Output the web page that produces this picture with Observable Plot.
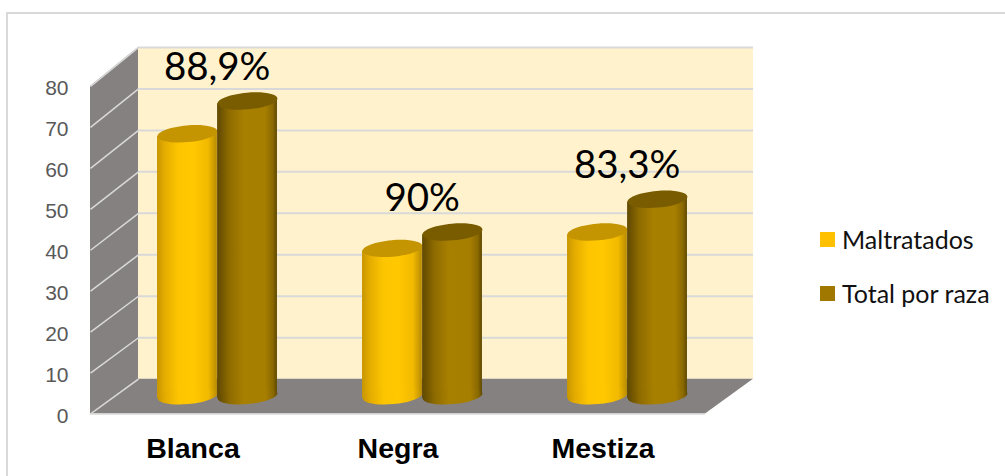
<!DOCTYPE html>
<html>
<head>
<meta charset="utf-8">
<script src="https://cdn.jsdelivr.net/npm/d3@7"></script>
<script src="https://cdn.jsdelivr.net/npm/@observablehq/plot@0.6"></script>
<style>
html,body{margin:0;padding:0;background:#fff;overflow:hidden}
#wrap{position:relative;width:1005px;height:476px;overflow:hidden}
#frame{position:absolute;left:6px;top:12px;width:1020px;height:490px;border:2px solid #d9d9d9;box-sizing:border-box}
#chart{position:absolute;left:0;top:0}
#legend{position:absolute;left:820px;top:0;font-family:Lato,sans-serif;font-size:25px;color:#111}
.item{position:absolute;white-space:nowrap;display:flex;align-items:center;left:0}
.sw{width:15px;height:15px;margin-right:7px;flex:none}
</style>
</head>
<body>
<div id="wrap"><div id="frame"></div><div id="chart"></div><div id="legend"></div></div>
<script>
const categories = ["Blanca", "Negra", "Mestiza"];
const maltratados = [64, 36, 40];
const totalPorRaza = [72, 40, 48];
const percentLabels = ["88,9%", "90%", "83,3%"];
const yTicks = [0, 10, 20, 30, 40, 50, 60, 70, 80];
const seriesNames = ["Maltratados", "Total por raza"];
const swatchColors = ["#ffc000", "#a07800"];

// Depth of the fake 3D box, in scale units
const depthX = 48 / 205, lift = 8.5, backScale = 1.013, baseLift = 4.45;
const back = (v) => lift + v * backScale;
const halfW = 0.146, slope = 0.65;

const ellipse = (rx, ry, deg) => ({
  draw(ctx) {
    const a = deg * Math.PI / 180, c = Math.cos(a), s = Math.sin(a), k = 0.5523;
    const P = (x, y) => [x * c - y * s, x * s + y * c];
    const pts = [[rx,0],[rx,k*ry],[k*rx,ry],[0,ry],[-k*rx,ry],[-rx,k*ry],[-rx,0],[-rx,-k*ry],[-k*rx,-ry],[0,-ry],[k*rx,-ry],[rx,-k*ry],[rx,0]].map(p => P(...p));
    ctx.moveTo(...pts[0]);
    for (let i = 1; i < pts.length; i += 3) ctx.bezierCurveTo(...pts[i], ...pts[i+1], ...pts[i+2]);
    ctx.closePath();
  }
});
const cap = ellipse(30, 8.3, -5);

const gradients = () => {
  const defs = d3.create("svg:defs");
  const add = (id, stops) => {
    const g = defs.append("linearGradient").attr("id", id);
    stops.forEach(([o, c]) => g.append("stop").attr("offset", o).attr("stop-color", c));
  };
  add("gY", [[0,"#c79600"],[0.12,"#e3ab00"],[0.35,"#fcc500"],[0.6,"#ffc800"],[0.85,"#f2ba00"],[1,"#b88b00"]]);
  add("gB", [[0,"#5f4800"],[0.2,"#8e6b00"],[0.45,"#a88000"],[0.8,"#a67e00"],[0.93,"#8a6900"],[1,"#5f4900"]]);
  return defs.node();
};

const barRows = (vals, off) => vals.flatMap((v, i) => {
  const cx = i + off, top = v + baseLift;
  return [
    {id: i, x: cx - halfW, y1: baseLift - slope, y2: top - slope},
    {id: i, x: cx + halfW, y1: baseLift + slope, y2: top + slope}
  ];
});
const caps = (vals, off, base) => vals.map((v, i) => ({x: i + off, y: base ? baseLift : v + baseLift}));

const offY = 0.473, offB = 0.766;
const cylinder = (vals, off, grad, capFill) => [
  Plot.areaY(barRows(vals, off), {x: "x", y1: "y1", y2: "y2", z: "id", fill: grad, curve: "linear"}),
  Plot.dot(caps(vals, off, true), {x: "x", y: "y", symbol: cap, fill: grad, stroke: "none"}),
  Plot.dot(caps(vals, off, false), {x: "x", y: "y", symbol: cap, fill: capFill, stroke: "none"})
];

const wallGray = "#858181", lineGray = "#d9d9d9";
const chart = Plot.plot({
  width: 1005, height: 476,
  marginLeft: 90, marginRight: 300, marginTop: 46.3, marginBottom: 62.5,
  x: {domain: [0, 3], axis: null},
  y: {domain: [0, 89.7], axis: null},
  style: {background: "transparent", overflow: "visible"},
  marks: [
    gradients,
    // back wall
    Plot.areaY([{x: depthX, a: back(0), b: back(80)}, {x: 3 + depthX, a: back(0), b: back(80)}], {x: "x", y1: "a", y2: "b", fill: "#fff2cc"}),
    // left wall
    Plot.areaY([{x: 0, a: 0, b: 80}, {x: depthX, a: back(0), b: back(80)}], {x: "x", y1: "a", y2: "b", fill: wallGray}),
    // floor
    Plot.areaX([{y: 0, a: 0, b: 3}, {y: back(0), a: depthX, b: 3 + depthX}], {y: "y", x1: "a", x2: "b", fill: wallGray}),
    // gridlines: back wall, left wall
    Plot.ruleY(yTicks.slice(1), {y: back, x1: depthX, x2: 3 + depthX, stroke: lineGray, strokeWidth: 2}),
    Plot.link(yTicks, {x1: 0, y1: d => d, x2: depthX, y2: back, stroke: lineGray, strokeWidth: 1.5}),
    Plot.ruleY([0], {x1: 0, x2: 3, stroke: lineGray, strokeWidth: 1.5}),
    ...cylinder(maltratados, offY, "url(#gY)", "#c49500"),
    ...cylinder(totalPorRaza, offB, "url(#gB)", "#7a5c00"),
    Plot.axisY(yTicks, {anchor: "left", tickSize: 0, tickPadding: 22, dy: 2, label: null,
      fontSize: 21, fontFamily: "Liberation Sans", fill: "#595959", tickFormat: d => d}),
    Plot.axisX([0.5, 1.5, 2.5], {anchor: "bottom", tickSize: 0, tickPadding: 24, label: null,
      fontSize: 28.5, fontWeight: "bold", fontFamily: "Liberation Sans", fill: "#000", tickFormat: d => categories[Math.floor(d)]}),
    Plot.text(percentLabels, {x: (d, i) => i + 0.618, y: (d, i) => totalPorRaza[i] + 9.3, text: d => d,
      lineAnchor: "bottom", fontSize: 38.5, fontFamily: "Lato", fill: "#000", dy: -1})
  ]
});
document.getElementById("chart").append(chart);
const legend = document.getElementById("legend");
seriesNames.forEach((name, i) => {
  const it = document.createElement("div");
  it.className = "item";
  it.style.top = (224 + i * 54) + "px";
  it.innerHTML = `<span class="sw" style="background:${swatchColors[i]}"></span><span>${name}</span>`;
  legend.append(it);
});
</script>
</body>
</html>
